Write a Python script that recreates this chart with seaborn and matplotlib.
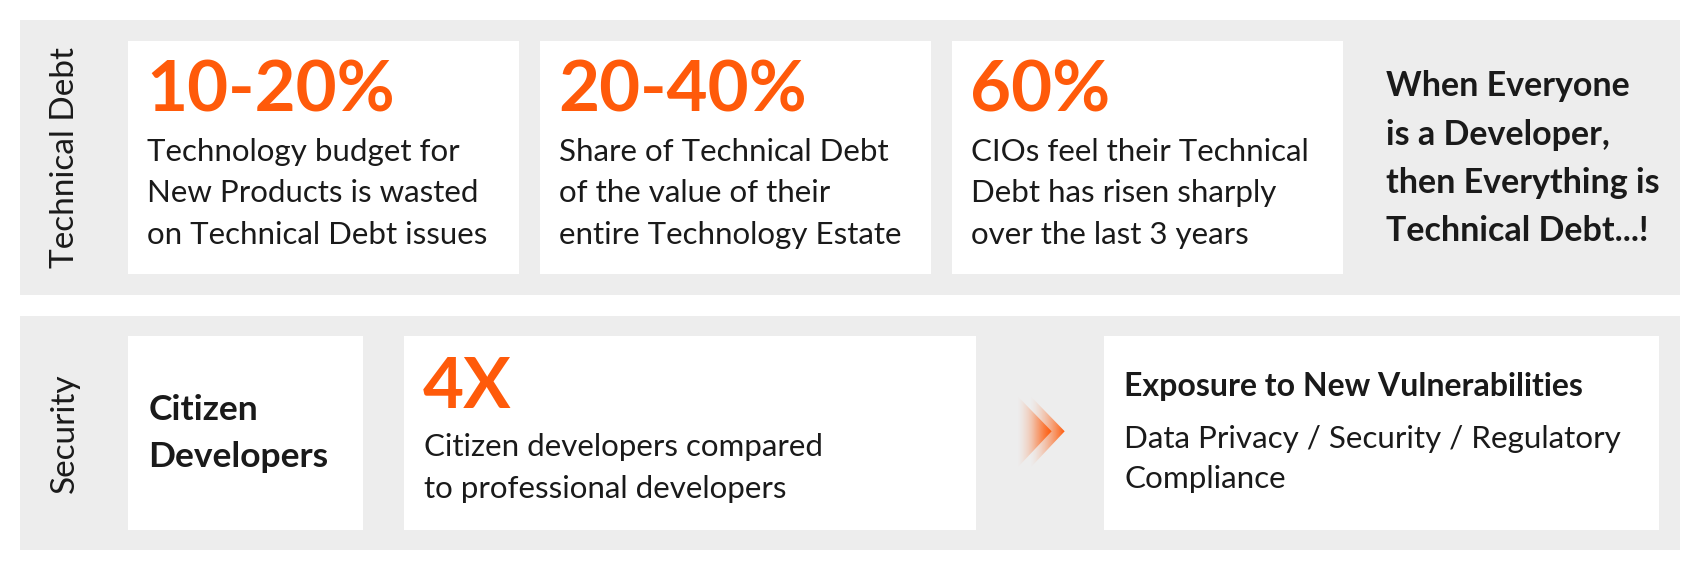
import numpy as np
import seaborn as sns
import matplotlib.pyplot as plt
from matplotlib.patches import Rectangle, Polygon

sns.set_style("white")
plt.rcParams['font.family'] = ['Lato', 'DejaVu Sans']

ORANGE = '#FF5A0A'
GRAY = '#EDEDED'
DARK = '#1a1a1a'

row_labels = ['Technical Debt', 'Security']
td_numbers = ['10-20%', '20-40%', '60%']
td_texts = ['Technology budget for\nNew Products is wasted\non Technical Debt issues',
            'Share of Technical Debt\nof the value of their\nentire Technology Estate',
            'CIOs feel their Technical\nDebt has risen sharply\nover the last 3 years']
td_box_left = [118, 498, 878]
td_quote = 'When Everyone\nis a Developer,\nthen Everything is\nTechnical Debt...!'
sec_title = 'Citizen\nDevelopers'
sec_number = '4X'
sec_text = 'Citizen developers compared\nto professional developers'
sec_head = 'Exposure to New Vulnerabilities'
sec_sub = 'Data Privacy / Security / Regulatory\nCompliance'

fig = plt.figure(figsize=(17, 5.7), dpi=100)
ax = fig.add_axes([0, 0, 1, 1])
ax.set_xlim(0, 1568)
ax.set_ylim(526, 0)
ax.axis('off')

# gray bands
ax.add_patch(Rectangle((18, 18), 1532, 254, color=GRAY, lw=0))
ax.add_patch(Rectangle((18, 292), 1532, 216, color=GRAY, lw=0))
ax.text(60, 145, row_labels[0], rotation=90, ha='center', va='center', fontsize=24, color=DARK)
ax.text(60, 400, row_labels[1], rotation=90, ha='center', va='center', fontsize=24, color=DARK)

# technical debt boxes
for x0, num, txt in zip(td_box_left, td_numbers, td_texts):
    ax.add_patch(Rectangle((x0, 38), 361, 215, color='white', lw=0))
    ax.text(x0 + 17, 84, num, fontsize=51, fontweight='bold', color=ORANGE, va='center', ha='left')
    ax.text(x0 + 18, 127, txt, fontsize=22.5, color=DARK, va='top', ha='left', linespacing=1.6)
ax.text(1278, 65, td_quote, fontsize=24.5, fontweight='bold', color=DARK, va='top', ha='left',
        linespacing=1.62)

# security boxes
ax.add_patch(Rectangle((118, 310), 217, 179, color='white', lw=0))
ax.text(137, 400, sec_title, fontsize=25.5, fontweight='bold', color=DARK, va='center', ha='left',
        linespacing=1.55)
ax.add_patch(Rectangle((373, 310), 527, 179, color='white', lw=0))
ax.text(390, 358, sec_number, fontsize=51, fontweight='bold', color=ORANGE, va='center', ha='left')
ax.text(391, 400, sec_text, fontsize=22.5, color=DARK, va='top', ha='left', linespacing=1.6)
ax.add_patch(Rectangle((1018, 310), 512, 179, color='white', lw=0))
ax.text(1037, 357, sec_head, fontsize=23, fontweight='bold', color=DARK, va='center', ha='left')
ax.text(1037, 392, sec_sub, fontsize=22.6, color=DARK, va='top', ha='left', linespacing=1.55)

# gradient chevrons
grad = np.zeros((2, 256, 4))
grad[..., :3] = np.array([255, 90, 10]) / 255
grad[..., 3] = np.linspace(0, 1, 256) ** 1.5
for x0 in [938, 950]:
    tri = Polygon([(x0, 365), (x0 + 32, 398), (x0, 432)], closed=True, transform=ax.transData)
    im = ax.imshow(grad, extent=(x0, x0 + 32, 432, 365), aspect='auto', zorder=3)
    im.set_clip_path(tri)
ax.set_xlim(0, 1568)
ax.set_ylim(526, 0)

plt.savefig('out.png', dpi=100)
plt.close()
